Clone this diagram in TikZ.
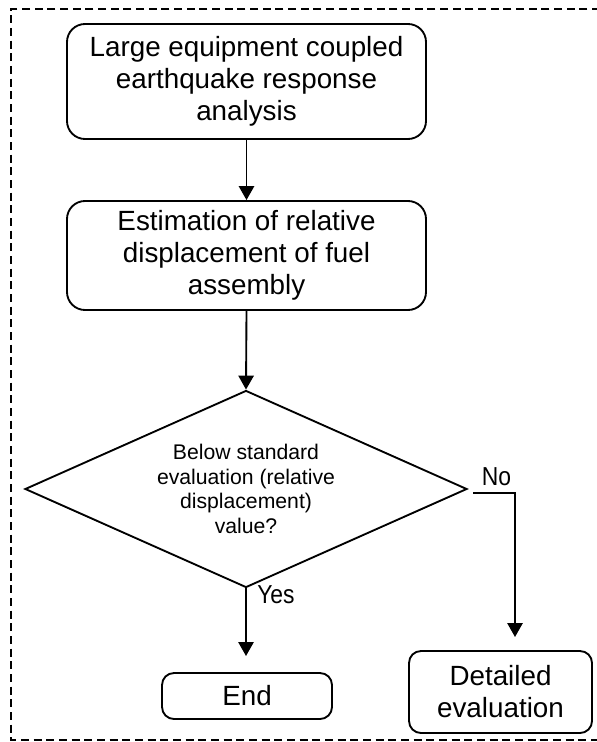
\documentclass[tikz,border=0pt]{standalone}
\usepackage{fontspec}
\setmainfont{Liberation Sans}
\usetikzlibrary{shapes.geometric,arrows.meta}
\begin{document}
\begin{tikzpicture}[x=0.75pt,y=-0.75pt,
 box/.style={draw,line width=1.4pt,rounded corners=13.5pt,align=center,font=\fontsize{20.85}{24}\selectfont,inner sep=0pt},
 smallbox/.style={box,rounded corners=9pt},
 conn/.style={line width=1.4pt,-{Triangle[length=10.5pt,width=11.5pt]}},
 lbl/.style={font=\fontsize{19.5}{22}\selectfont,inner sep=0pt}]
\useasboundingbox (0,0) rectangle (596,742);
\draw[line width=1.1pt, dash pattern=on 6pt off 3.5pt] (600,9) -- (11,9) -- (11,740) -- (600,740);
\node[box,minimum width=269.25pt,minimum height=86.25pt] (a) at (246.5,81.5) {Large equipment coupled\\earthquake response\\analysis};
\node[box,minimum width=269.25pt,minimum height=81.75pt] (b) at (246.5,255.5) {Estimation of relative\\displacement of fuel\\assembly};
\node[draw,diamond,aspect=2.24,line width=1.4pt,minimum width=331.5pt,minimum height=147.75pt,inner sep=0pt,align=center,font=\fontsize{15.9}{18.4}\selectfont] (c) at (246,489) {Below standard\\evaluation (relative\\displacement)\\value?};
\node[smallbox, minimum width=127.5pt, minimum height=34.5pt] (d) at (247,696) {End};
\node[smallbox, minimum width=137.25pt, minimum height=61.5pt] (e) at (500.5,692) {Detailed\\evaluation};
\draw[conn] (a.south) -- (b.north);
\draw[conn] (b.south) -- (c.north);
\coordinate (yesend) at (246,656);
\draw[conn] (c.south) -- (yesend);
\node[lbl,anchor=west] (yes) at (257,594.5) {\scalebox{0.88}[1]{Yes}};
\coordinate (nostart) at (473,493);
\coordinate (noend) at (515,637);
\draw[conn] (nostart) -| (noend);
\node[lbl] (no) at (496.5,476.5) {\scalebox{0.88}[1]{No}};
\end{tikzpicture}
\end{document}
